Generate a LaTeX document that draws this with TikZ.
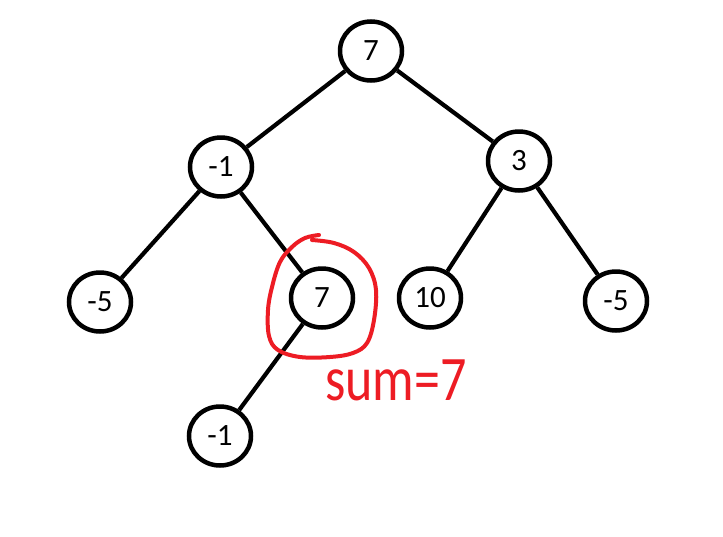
\documentclass[tikz,border=0pt]{standalone}
\usepackage{fontspec}
\setmainfont{Carlito}
\usetikzlibrary{shapes.geometric}
\definecolor{paintred}{RGB}{237,28,36}
\tikzset{
  treenode/.style={shape=ellipse, draw=black, line width=4.5pt, minimum width=62pt, minimum height=59pt, inner sep=0pt, font=\fontsize{31}{31}\selectfont},
  treeedge/.style={draw=black, line width=4.2pt},
  marker/.style={draw=paintred, line width=4pt, line cap=round, line join=round},
}
\begin{document}
\begin{tikzpicture}[x=1pt,y=-1pt]
\fill[white] (0,0) rectangle (723,536);
\useasboundingbox (0,0) rectangle (723,536);
\node[treenode] (root) at (371,51) {7};
\node[treenode] (a) at (221,167) {-1};
\node[treenode] (b) at (519,161) {3};
\node[treenode] (c) at (100,302) {-5};
\node[treenode] (d) at (322,298) {7};
\node[treenode] (e) at (430,298) {10};
\node[treenode] (f) at (616,301) {-5};
\node[treenode] (g) at (220,436) {-1};
\draw[treeedge] (root) -- (a);
\draw[treeedge] (root) -- (b);
\draw[treeedge] (a) -- (c);
\draw[treeedge] (a) -- (d);
\draw[treeedge] (b) -- (e);
\draw[treeedge] (b) -- (f);
\draw[treeedge] (d) -- (g);
\draw[marker] plot[smooth, tension=0.6] coordinates {(319,235) (305,238) (292,247) (280,262) (272,287) (268,310) (269,336) (278,350) (300,357) (330,357) (353,353) (367,343) (374,320) (376,290) (369,268) (354,252) (334,243) (312,240)};
\node[anchor=base west, inner sep=0pt, text=paintred, font=\fontsize{52}{52}\selectfont] (sum) at (325,400) {\scalebox{1}[1.22]{sum=7}};
\end{tikzpicture}
\end{document}
